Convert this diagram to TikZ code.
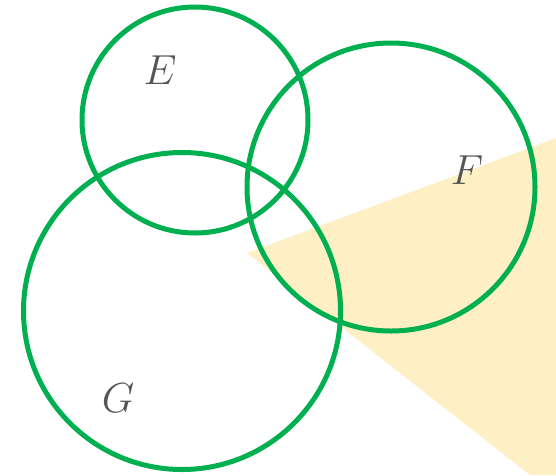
\documentclass[tikz,border=0pt]{standalone}
\usepackage{fix-cm}
\usepackage{xcolor}
\definecolor{setgreen}{RGB}{0,176,80}
\definecolor{wedgeyellow}{RGB}{255,239,196}
\definecolor{labelgray}{RGB}{85,85,85}
\begin{document}
\begin{tikzpicture}[x=1pt, y=-1pt,
		setcircle/.style={circle, draw=setgreen, line width=5pt, minimum size=#1, inner sep=0pt},
		setlabel/.style={text=labelgray, font=\fontsize{42}{48}\selectfont}]
			\useasboundingbox (0,0) rectangle (556,475);
			% shaded wedge
			\coordinate (apex) at (247,253);
			\fill[wedgeyellow] (apex) -- (556,138) -- (556,475) -- (530,475) -- cycle;
			\foreach \n/\x/\y/\r/\lx/\ly in {
					E/195/120/226/160/70, F/391/187/288/467/170, G/182/311/317/118/398
				} {
					\node[setcircle=\r] (set\n) at (\x,\y) {};
					\node[setlabel] (label\n) at (\lx,\ly) {$\n$};
				}
		\end{tikzpicture}
\end{document}
